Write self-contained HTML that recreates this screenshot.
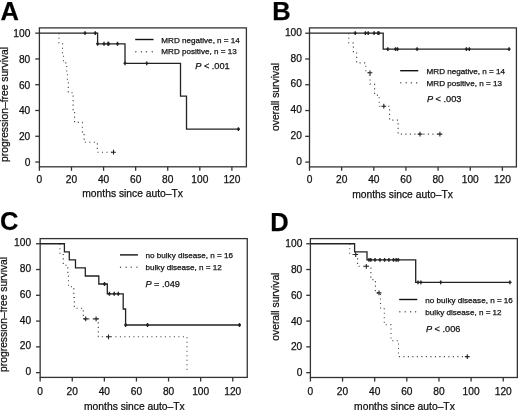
<!DOCTYPE html><html><head><meta charset="utf-8"><style>html,body{margin:0;padding:0;background:#fff;}svg{display:block;filter:blur(0.3px);}text{font-family:"Liberation Sans", sans-serif;stroke:#111;stroke-width:0.25px;}</style></head><body>
<svg width="520" height="410" viewBox="0 0 520 410">
<rect width="520" height="410" fill="#fff"/>
<rect x="39.40" y="27.90" width="207.00" height="138.90" fill="none" stroke="#333" stroke-width="1.3"/>
<line x1="35.25" y1="162.05" x2="39.40" y2="162.05" stroke="#333" stroke-width="1.3"/>
<text x="30.30" y="165.85" font-size="10.2" text-anchor="end" fill="#111">0</text>
<line x1="35.25" y1="136.27" x2="39.40" y2="136.27" stroke="#333" stroke-width="1.3"/>
<text x="30.30" y="140.07" font-size="10.2" text-anchor="end" fill="#111">20</text>
<line x1="35.25" y1="110.49" x2="39.40" y2="110.49" stroke="#333" stroke-width="1.3"/>
<text x="30.30" y="114.29" font-size="10.2" text-anchor="end" fill="#111">40</text>
<line x1="35.25" y1="84.71" x2="39.40" y2="84.71" stroke="#333" stroke-width="1.3"/>
<text x="30.30" y="88.51" font-size="10.2" text-anchor="end" fill="#111">60</text>
<line x1="35.25" y1="58.93" x2="39.40" y2="58.93" stroke="#333" stroke-width="1.3"/>
<text x="30.30" y="62.73" font-size="10.2" text-anchor="end" fill="#111">80</text>
<line x1="35.25" y1="33.15" x2="39.40" y2="33.15" stroke="#333" stroke-width="1.3"/>
<text x="30.30" y="36.95" font-size="10.2" text-anchor="end" fill="#111">100</text>
<line x1="39.40" y1="166.80" x2="39.40" y2="170.80" stroke="#333" stroke-width="1.3"/>
<text x="39.40" y="182.50" font-size="10.2" text-anchor="middle" fill="#111">0</text>
<line x1="71.48" y1="166.80" x2="71.48" y2="170.80" stroke="#333" stroke-width="1.3"/>
<text x="71.48" y="182.50" font-size="10.2" text-anchor="middle" fill="#111">20</text>
<line x1="103.57" y1="166.80" x2="103.57" y2="170.80" stroke="#333" stroke-width="1.3"/>
<text x="103.57" y="182.50" font-size="10.2" text-anchor="middle" fill="#111">40</text>
<line x1="135.65" y1="166.80" x2="135.65" y2="170.80" stroke="#333" stroke-width="1.3"/>
<text x="135.65" y="182.50" font-size="10.2" text-anchor="middle" fill="#111">60</text>
<line x1="167.74" y1="166.80" x2="167.74" y2="170.80" stroke="#333" stroke-width="1.3"/>
<text x="167.74" y="182.50" font-size="10.2" text-anchor="middle" fill="#111">80</text>
<line x1="199.82" y1="166.80" x2="199.82" y2="170.80" stroke="#333" stroke-width="1.3"/>
<text x="199.82" y="182.50" font-size="10.2" text-anchor="middle" fill="#111">100</text>
<line x1="231.90" y1="166.80" x2="231.90" y2="170.80" stroke="#333" stroke-width="1.3"/>
<text x="231.90" y="182.50" font-size="10.2" text-anchor="middle" fill="#111">120</text>
<path d="M59.00,33.15 L59.00,43.07 L62.50,43.07 L62.50,52.98 L63.50,52.98 L63.50,62.90 L66.70,62.90 L66.70,72.80 L67.40,72.80 L67.40,82.70 L68.30,82.70 L68.30,92.70 L73.10,92.70 L73.10,112.50 L74.60,112.50 L74.60,122.40 L82.40,122.40 L82.40,132.30 L84.10,132.30 L84.10,142.30 L97.30,142.30 L97.30,152.20 L113.50,152.20" stroke="#444" stroke-width="1.1" stroke-dasharray="1.1 3.4" fill="none"/>
<path d="M39.40,33.15 L97.60,33.15 L97.60,43.80 L125.00,43.80 L125.00,63.40 L180.50,63.40 L180.50,96.20 L186.50,96.20 L186.50,129.10 L239.90,129.10" stroke="#222" stroke-width="1.3" fill="none"/>
<path d="M83.50,33.15 H86.50 M85.00,31.20 V35.10" stroke="#222" stroke-width="1.4" fill="none"/>
<path d="M93.75,33.15 H96.75 M95.25,31.20 V35.10" stroke="#222" stroke-width="1.4" fill="none"/>
<path d="M96.10,43.80 H99.10 M97.60,41.85 V45.75" stroke="#222" stroke-width="1.4" fill="none"/>
<path d="M102.50,43.80 H105.50 M104.00,41.85 V45.75" stroke="#222" stroke-width="1.4" fill="none"/>
<path d="M106.50,43.80 H109.50 M108.00,41.85 V45.75" stroke="#222" stroke-width="1.4" fill="none"/>
<path d="M107.10,43.80 H110.10 M108.60,41.85 V45.75" stroke="#222" stroke-width="1.4" fill="none"/>
<path d="M116.00,43.80 H119.00 M117.50,41.85 V45.75" stroke="#222" stroke-width="1.4" fill="none"/>
<path d="M123.50,63.40 H126.50 M125.00,61.45 V65.35" stroke="#222" stroke-width="1.4" fill="none"/>
<path d="M145.25,63.40 H148.25 M146.75,61.45 V65.35" stroke="#222" stroke-width="1.4" fill="none"/>
<path d="M236.90,129.10 H239.90 M238.40,127.15 V131.05" stroke="#222" stroke-width="1.4" fill="none"/>
<path d="M111.10,152.20 H115.90 M113.50,149.80 V154.60" stroke="#222" stroke-width="1.1" fill="none"/>
<line x1="135.2" y1="39.5" x2="153.5" y2="39.5" stroke="#111" stroke-width="1.4"/>
<rect x="135.20" y="51.20" width="1.2" height="1.2" fill="#444"/>
<rect x="140.80" y="51.20" width="1.2" height="1.2" fill="#444"/>
<rect x="145.80" y="51.20" width="1.2" height="1.2" fill="#444"/>
<rect x="151.70" y="51.20" width="1.2" height="1.2" fill="#444"/>
<text x="161.35" y="42.8" font-size="8.1" fill="#111">MRD negative, n = 14</text>
<text x="161.35" y="54.3" font-size="8.1" fill="#111">MRD positive, n = 13</text>
<text x="195.20" y="69.2" font-size="9.2" fill="#111"><tspan font-style="italic">P</tspan> &lt; .001</text>
<text x="0.58" y="20.4" font-size="25.5" font-weight="bold" fill="#000">A</text>
<text transform="translate(7.70,161.90) rotate(-90)" x="0" y="0" font-size="10.3" fill="#111">progression–free survival</text>
<text x="82.28" y="197.3" font-size="10.3" fill="#111">months since auto–Tx</text>
<rect x="309.50" y="27.90" width="206.90" height="139.00" fill="none" stroke="#333" stroke-width="1.3"/>
<line x1="305.25" y1="162.10" x2="309.50" y2="162.10" stroke="#333" stroke-width="1.3"/>
<text x="301.90" y="164.70" font-size="10.2" text-anchor="end" fill="#111">0</text>
<line x1="305.25" y1="136.32" x2="309.50" y2="136.32" stroke="#333" stroke-width="1.3"/>
<text x="301.90" y="138.92" font-size="10.2" text-anchor="end" fill="#111">20</text>
<line x1="305.25" y1="110.54" x2="309.50" y2="110.54" stroke="#333" stroke-width="1.3"/>
<text x="301.90" y="113.14" font-size="10.2" text-anchor="end" fill="#111">40</text>
<line x1="305.25" y1="84.76" x2="309.50" y2="84.76" stroke="#333" stroke-width="1.3"/>
<text x="301.90" y="87.36" font-size="10.2" text-anchor="end" fill="#111">60</text>
<line x1="305.25" y1="58.98" x2="309.50" y2="58.98" stroke="#333" stroke-width="1.3"/>
<text x="301.90" y="61.58" font-size="10.2" text-anchor="end" fill="#111">80</text>
<line x1="305.25" y1="33.20" x2="309.50" y2="33.20" stroke="#333" stroke-width="1.3"/>
<text x="301.90" y="35.80" font-size="10.2" text-anchor="end" fill="#111">100</text>
<line x1="309.50" y1="166.90" x2="309.50" y2="170.80" stroke="#333" stroke-width="1.3"/>
<text x="309.50" y="182.50" font-size="10.2" text-anchor="middle" fill="#111">0</text>
<line x1="341.65" y1="166.90" x2="341.65" y2="170.80" stroke="#333" stroke-width="1.3"/>
<text x="341.65" y="182.50" font-size="10.2" text-anchor="middle" fill="#111">20</text>
<line x1="373.80" y1="166.90" x2="373.80" y2="170.80" stroke="#333" stroke-width="1.3"/>
<text x="373.80" y="182.50" font-size="10.2" text-anchor="middle" fill="#111">40</text>
<line x1="405.95" y1="166.90" x2="405.95" y2="170.80" stroke="#333" stroke-width="1.3"/>
<text x="405.95" y="182.50" font-size="10.2" text-anchor="middle" fill="#111">60</text>
<line x1="438.10" y1="166.90" x2="438.10" y2="170.80" stroke="#333" stroke-width="1.3"/>
<text x="438.10" y="182.50" font-size="10.2" text-anchor="middle" fill="#111">80</text>
<line x1="470.25" y1="166.90" x2="470.25" y2="170.80" stroke="#333" stroke-width="1.3"/>
<text x="470.25" y="182.50" font-size="10.2" text-anchor="middle" fill="#111">100</text>
<line x1="502.40" y1="166.90" x2="502.40" y2="170.80" stroke="#333" stroke-width="1.3"/>
<text x="502.40" y="182.50" font-size="10.2" text-anchor="middle" fill="#111">120</text>
<path d="M348.80,33.15 L348.80,43.07 L353.40,43.07 L353.40,52.98 L356.60,52.98 L356.60,62.90 L365.80,62.90 L365.80,72.80 L370.00,72.80 L370.00,84.00 L374.60,84.00 L374.60,95.10 L379.20,95.10 L379.20,106.20 L389.60,106.20 L389.60,120.10 L398.10,120.10 L398.10,134.10 L439.90,134.10" stroke="#444" stroke-width="1.1" stroke-dasharray="1.1 3.4" fill="none"/>
<path d="M309.50,33.15 L383.20,33.15 L383.20,49.10 L510.20,49.10" stroke="#222" stroke-width="1.3" fill="none"/>
<path d="M353.70,33.15 H356.70 M355.20,31.20 V35.10" stroke="#222" stroke-width="1.4" fill="none"/>
<path d="M363.90,33.15 H366.90 M365.40,31.20 V35.10" stroke="#222" stroke-width="1.4" fill="none"/>
<path d="M366.70,33.15 H369.70 M368.20,31.20 V35.10" stroke="#222" stroke-width="1.4" fill="none"/>
<path d="M372.60,33.15 H375.60 M374.10,31.20 V35.10" stroke="#222" stroke-width="1.4" fill="none"/>
<path d="M376.50,33.15 H379.50 M378.00,31.20 V35.10" stroke="#222" stroke-width="1.4" fill="none"/>
<path d="M377.30,33.15 H380.30 M378.80,31.20 V35.10" stroke="#222" stroke-width="1.4" fill="none"/>
<path d="M386.30,49.10 H389.30 M387.80,47.15 V51.05" stroke="#222" stroke-width="1.4" fill="none"/>
<path d="M394.00,49.10 H397.00 M395.50,47.15 V51.05" stroke="#222" stroke-width="1.4" fill="none"/>
<path d="M396.00,49.10 H399.00 M397.50,47.15 V51.05" stroke="#222" stroke-width="1.4" fill="none"/>
<path d="M415.60,49.10 H418.60 M417.10,47.15 V51.05" stroke="#222" stroke-width="1.4" fill="none"/>
<path d="M464.90,49.10 H467.90 M466.40,47.15 V51.05" stroke="#222" stroke-width="1.4" fill="none"/>
<path d="M467.80,49.10 H470.80 M469.30,47.15 V51.05" stroke="#222" stroke-width="1.4" fill="none"/>
<path d="M507.60,49.10 H510.60 M509.10,47.15 V51.05" stroke="#222" stroke-width="1.4" fill="none"/>
<path d="M367.60,72.80 H372.40 M370.00,70.40 V75.20" stroke="#222" stroke-width="1.1" fill="none"/>
<path d="M381.40,106.20 H386.20 M383.80,103.80 V108.60" stroke="#222" stroke-width="1.1" fill="none"/>
<path d="M417.60,134.10 H422.40 M420.00,131.70 V136.50" stroke="#222" stroke-width="1.1" fill="none"/>
<path d="M437.50,134.10 H442.30 M439.90,131.70 V136.50" stroke="#222" stroke-width="1.1" fill="none"/>
<line x1="400.2" y1="70.7" x2="418.3" y2="70.7" stroke="#111" stroke-width="1.4"/>
<rect x="400.20" y="82.20" width="1.2" height="1.2" fill="#444"/>
<rect x="405.60" y="82.20" width="1.2" height="1.2" fill="#444"/>
<rect x="410.80" y="82.20" width="1.2" height="1.2" fill="#444"/>
<rect x="416.00" y="82.20" width="1.2" height="1.2" fill="#444"/>
<text x="426.55" y="73.7" font-size="8.1" fill="#111">MRD negative, n = 14</text>
<text x="426.55" y="85.5" font-size="8.1" fill="#111">MRD positive, n = 13</text>
<text x="426.90" y="102.3" font-size="9.2" fill="#111"><tspan font-style="italic">P</tspan> &lt; .003</text>
<text x="272.18" y="19.9" font-size="25.5" font-weight="bold" fill="#000">B</text>
<text transform="translate(279.20,131.00) rotate(-90)" x="0" y="0" font-size="10.3" fill="#111">overall survival</text>
<text x="352.18" y="197.5" font-size="10.3" fill="#111">months since auto–Tx</text>
<rect x="40.15" y="238.60" width="207.10" height="138.80" fill="none" stroke="#333" stroke-width="1.3"/>
<line x1="36.00" y1="372.65" x2="40.15" y2="372.65" stroke="#333" stroke-width="1.3"/>
<text x="31.10" y="375.25" font-size="10.2" text-anchor="end" fill="#111">0</text>
<line x1="36.00" y1="346.87" x2="40.15" y2="346.87" stroke="#333" stroke-width="1.3"/>
<text x="31.10" y="349.47" font-size="10.2" text-anchor="end" fill="#111">20</text>
<line x1="36.00" y1="321.09" x2="40.15" y2="321.09" stroke="#333" stroke-width="1.3"/>
<text x="31.10" y="323.69" font-size="10.2" text-anchor="end" fill="#111">40</text>
<line x1="36.00" y1="295.31" x2="40.15" y2="295.31" stroke="#333" stroke-width="1.3"/>
<text x="31.10" y="297.91" font-size="10.2" text-anchor="end" fill="#111">60</text>
<line x1="36.00" y1="269.53" x2="40.15" y2="269.53" stroke="#333" stroke-width="1.3"/>
<text x="31.10" y="272.13" font-size="10.2" text-anchor="end" fill="#111">80</text>
<line x1="36.00" y1="243.75" x2="40.15" y2="243.75" stroke="#333" stroke-width="1.3"/>
<text x="31.10" y="246.35" font-size="10.2" text-anchor="end" fill="#111">100</text>
<line x1="40.15" y1="377.40" x2="40.15" y2="381.50" stroke="#333" stroke-width="1.3"/>
<text x="40.15" y="394.70" font-size="10.2" text-anchor="middle" fill="#111">0</text>
<line x1="72.25" y1="377.40" x2="72.25" y2="381.50" stroke="#333" stroke-width="1.3"/>
<text x="72.25" y="394.70" font-size="10.2" text-anchor="middle" fill="#111">20</text>
<line x1="104.35" y1="377.40" x2="104.35" y2="381.50" stroke="#333" stroke-width="1.3"/>
<text x="104.35" y="394.70" font-size="10.2" text-anchor="middle" fill="#111">40</text>
<line x1="136.45" y1="377.40" x2="136.45" y2="381.50" stroke="#333" stroke-width="1.3"/>
<text x="136.45" y="394.70" font-size="10.2" text-anchor="middle" fill="#111">60</text>
<line x1="168.55" y1="377.40" x2="168.55" y2="381.50" stroke="#333" stroke-width="1.3"/>
<text x="168.55" y="394.70" font-size="10.2" text-anchor="middle" fill="#111">80</text>
<line x1="200.65" y1="377.40" x2="200.65" y2="381.50" stroke="#333" stroke-width="1.3"/>
<text x="200.65" y="394.70" font-size="10.2" text-anchor="middle" fill="#111">100</text>
<line x1="232.75" y1="377.40" x2="232.75" y2="381.50" stroke="#333" stroke-width="1.3"/>
<text x="232.75" y="394.70" font-size="10.2" text-anchor="middle" fill="#111">120</text>
<path d="M59.90,243.75 L59.90,254.50 L63.30,254.50 L63.30,265.20 L67.80,265.20 L67.80,276.00 L68.50,276.00 L68.50,286.70 L73.80,286.70 L73.80,297.50 L74.30,297.50 L74.30,308.20 L83.30,308.20 L83.30,318.90 L98.30,318.90 L98.30,336.80 L187.00,336.80 L187.00,372.65" stroke="#444" stroke-width="1.1" stroke-dasharray="1.1 3.4" fill="none"/>
<path d="M40.15,243.75 L64.40,243.75 L64.40,251.90 L69.30,251.90 L69.30,259.90 L75.50,259.90 L75.50,267.90 L85.30,267.90 L85.30,276.00 L98.80,276.00 L98.80,284.00 L107.30,284.00 L107.30,293.80 L123.20,293.80 L123.20,309.00 L125.60,309.00 L125.60,325.00 L240.50,325.00" stroke="#222" stroke-width="1.3" fill="none"/>
<path d="M103.00,284.00 H106.00 M104.50,282.05 V285.95" stroke="#222" stroke-width="1.4" fill="none"/>
<path d="M107.90,293.80 H110.90 M109.40,291.85 V295.75" stroke="#222" stroke-width="1.4" fill="none"/>
<path d="M112.70,293.80 H115.70 M114.20,291.85 V295.75" stroke="#222" stroke-width="1.4" fill="none"/>
<path d="M116.80,293.80 H119.80 M118.30,291.85 V295.75" stroke="#222" stroke-width="1.4" fill="none"/>
<path d="M124.10,325.00 H127.10 M125.60,323.05 V326.95" stroke="#222" stroke-width="1.4" fill="none"/>
<path d="M146.00,325.00 H149.00 M147.50,323.05 V326.95" stroke="#222" stroke-width="1.4" fill="none"/>
<path d="M238.00,325.00 H241.00 M239.50,323.05 V326.95" stroke="#222" stroke-width="1.4" fill="none"/>
<path d="M83.30,318.90 H88.10 M85.70,316.50 V321.30" stroke="#222" stroke-width="1.1" fill="none"/>
<path d="M93.70,318.90 H98.50 M96.10,316.50 V321.30" stroke="#222" stroke-width="1.1" fill="none"/>
<path d="M106.10,336.80 H110.90 M108.50,334.40 V339.20" stroke="#222" stroke-width="1.1" fill="none"/>
<line x1="120.0" y1="254.9" x2="137.9" y2="254.9" stroke="#111" stroke-width="1.4"/>
<rect x="119.90" y="266.60" width="1.2" height="1.2" fill="#444"/>
<rect x="125.60" y="266.60" width="1.2" height="1.2" fill="#444"/>
<rect x="130.60" y="266.60" width="1.2" height="1.2" fill="#444"/>
<rect x="136.30" y="266.60" width="1.2" height="1.2" fill="#444"/>
<text x="145.55" y="257.8" font-size="8.1" fill="#111">no bulky disease, n = 16</text>
<text x="145.55" y="269.5" font-size="8.1" fill="#111">bulky disease, n = 12</text>
<text x="145.40" y="286.9" font-size="9.2" fill="#111"><tspan font-style="italic">P</tspan> = .049</text>
<text x="0.08" y="230.2" font-size="25.5" font-weight="bold" fill="#000">C</text>
<text transform="translate(7.30,371.90) rotate(-90)" x="0" y="0" font-size="10.3" fill="#111">progression–free survival</text>
<text x="84.03" y="409.8" font-size="10.3" fill="#111">months since auto–Tx</text>
<rect x="310.40" y="238.60" width="206.95" height="138.90" fill="none" stroke="#333" stroke-width="1.3"/>
<line x1="306.25" y1="372.65" x2="310.40" y2="372.65" stroke="#333" stroke-width="1.3"/>
<text x="302.30" y="376.15" font-size="10.2" text-anchor="end" fill="#111">0</text>
<line x1="306.25" y1="346.87" x2="310.40" y2="346.87" stroke="#333" stroke-width="1.3"/>
<text x="302.30" y="350.37" font-size="10.2" text-anchor="end" fill="#111">20</text>
<line x1="306.25" y1="321.09" x2="310.40" y2="321.09" stroke="#333" stroke-width="1.3"/>
<text x="302.30" y="324.59" font-size="10.2" text-anchor="end" fill="#111">40</text>
<line x1="306.25" y1="295.31" x2="310.40" y2="295.31" stroke="#333" stroke-width="1.3"/>
<text x="302.30" y="298.81" font-size="10.2" text-anchor="end" fill="#111">60</text>
<line x1="306.25" y1="269.53" x2="310.40" y2="269.53" stroke="#333" stroke-width="1.3"/>
<text x="302.30" y="273.03" font-size="10.2" text-anchor="end" fill="#111">80</text>
<line x1="306.25" y1="243.75" x2="310.40" y2="243.75" stroke="#333" stroke-width="1.3"/>
<text x="302.30" y="247.25" font-size="10.2" text-anchor="end" fill="#111">100</text>
<line x1="310.40" y1="377.50" x2="310.40" y2="381.60" stroke="#333" stroke-width="1.3"/>
<text x="310.40" y="394.50" font-size="10.2" text-anchor="middle" fill="#111">0</text>
<line x1="342.54" y1="377.50" x2="342.54" y2="381.60" stroke="#333" stroke-width="1.3"/>
<text x="342.54" y="394.50" font-size="10.2" text-anchor="middle" fill="#111">20</text>
<line x1="374.68" y1="377.50" x2="374.68" y2="381.60" stroke="#333" stroke-width="1.3"/>
<text x="374.68" y="394.50" font-size="10.2" text-anchor="middle" fill="#111">40</text>
<line x1="406.82" y1="377.50" x2="406.82" y2="381.60" stroke="#333" stroke-width="1.3"/>
<text x="406.82" y="394.50" font-size="10.2" text-anchor="middle" fill="#111">60</text>
<line x1="438.96" y1="377.50" x2="438.96" y2="381.60" stroke="#333" stroke-width="1.3"/>
<text x="438.96" y="394.50" font-size="10.2" text-anchor="middle" fill="#111">80</text>
<line x1="471.10" y1="377.50" x2="471.10" y2="381.60" stroke="#333" stroke-width="1.3"/>
<text x="471.10" y="394.50" font-size="10.2" text-anchor="middle" fill="#111">100</text>
<line x1="503.24" y1="377.50" x2="503.24" y2="381.60" stroke="#333" stroke-width="1.3"/>
<text x="503.24" y="394.50" font-size="10.2" text-anchor="middle" fill="#111">120</text>
<path d="M349.70,243.75 L349.70,254.50 L357.60,254.50 L357.60,266.30 L370.90,266.30 L370.90,279.60 L375.40,279.60 L375.40,292.90 L380.50,292.90 L380.50,308.80 L384.30,308.80 L384.30,324.80 L391.00,324.80 L391.00,340.70 L398.50,340.70 L398.50,356.60 L467.30,356.60" stroke="#444" stroke-width="1.1" stroke-dasharray="1.1 3.4" fill="none"/>
<path d="M310.40,243.75 L354.60,243.75 L354.60,251.80 L367.00,251.80 L367.00,259.85 L415.70,259.85 L415.70,282.40 L511.30,282.40" stroke="#222" stroke-width="1.3" fill="none"/>
<path d="M367.50,259.85 H370.50 M369.00,257.90 V261.80" stroke="#222" stroke-width="1.4" fill="none"/>
<path d="M369.30,259.85 H372.30 M370.80,257.90 V261.80" stroke="#222" stroke-width="1.4" fill="none"/>
<path d="M373.50,259.85 H376.50 M375.00,257.90 V261.80" stroke="#222" stroke-width="1.4" fill="none"/>
<path d="M378.50,259.85 H381.50 M380.00,257.90 V261.80" stroke="#222" stroke-width="1.4" fill="none"/>
<path d="M383.10,259.85 H386.10 M384.60,257.90 V261.80" stroke="#222" stroke-width="1.4" fill="none"/>
<path d="M387.40,259.85 H390.40 M388.90,257.90 V261.80" stroke="#222" stroke-width="1.4" fill="none"/>
<path d="M392.00,259.85 H395.00 M393.50,257.90 V261.80" stroke="#222" stroke-width="1.4" fill="none"/>
<path d="M394.70,259.85 H397.70 M396.20,257.90 V261.80" stroke="#222" stroke-width="1.4" fill="none"/>
<path d="M396.70,259.85 H399.70 M398.20,257.90 V261.80" stroke="#222" stroke-width="1.4" fill="none"/>
<path d="M416.50,282.40 H419.50 M418.00,280.45 V284.35" stroke="#222" stroke-width="1.4" fill="none"/>
<path d="M419.40,282.40 H422.40 M420.90,280.45 V284.35" stroke="#222" stroke-width="1.4" fill="none"/>
<path d="M439.20,282.40 H442.20 M440.70,280.45 V284.35" stroke="#222" stroke-width="1.4" fill="none"/>
<path d="M508.40,282.40 H511.40 M509.90,280.45 V284.35" stroke="#222" stroke-width="1.4" fill="none"/>
<path d="M353.30,254.50 H358.10 M355.70,252.10 V256.90" stroke="#222" stroke-width="1.1" fill="none"/>
<path d="M363.90,266.30 H368.70 M366.30,263.90 V268.70" stroke="#222" stroke-width="1.1" fill="none"/>
<path d="M376.60,292.90 H381.40 M379.00,290.50 V295.30" stroke="#222" stroke-width="1.1" fill="none"/>
<path d="M464.90,356.60 H469.70 M467.30,354.20 V359.00" stroke="#222" stroke-width="1.1" fill="none"/>
<line x1="399.2" y1="299.5" x2="417.3" y2="299.5" stroke="#111" stroke-width="1.4"/>
<rect x="399.20" y="311.20" width="1.2" height="1.2" fill="#444"/>
<rect x="404.60" y="311.20" width="1.2" height="1.2" fill="#444"/>
<rect x="410.00" y="311.20" width="1.2" height="1.2" fill="#444"/>
<rect x="415.00" y="311.20" width="1.2" height="1.2" fill="#444"/>
<text x="425.35" y="302.6" font-size="8.1" fill="#111">no bulky disease, n = 16</text>
<text x="425.35" y="314.9" font-size="8.1" fill="#111">bulky disease, n = 12</text>
<text x="425.90" y="331.8" font-size="9.2" fill="#111"><tspan font-style="italic">P</tspan> &lt; .006</text>
<text x="270.28" y="230.5" font-size="25.5" font-weight="bold" fill="#000">D</text>
<text transform="translate(279.20,340.70) rotate(-90)" x="0" y="0" font-size="10.3" fill="#111">overall survival</text>
<text x="354.08" y="409.8" font-size="10.3" fill="#111">months since auto–Tx</text>
</svg></body></html>
